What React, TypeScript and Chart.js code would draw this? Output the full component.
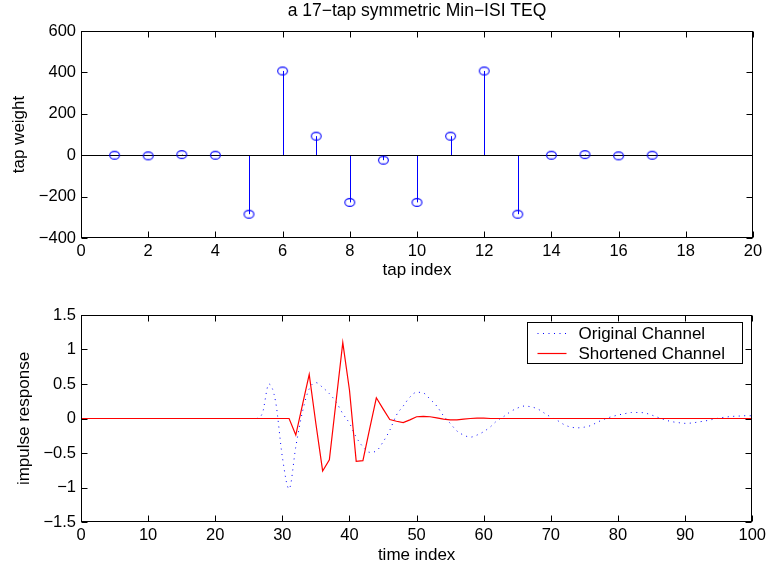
import React, { useEffect, useRef } from "react";
import { Chart, registerables } from "chart.js";

Chart.register(...registerables);

// ---------- data: top panel (17-tap TEQ) ----------
const TAP_INDEX = [1, 2, 3, 4, 5, 6, 7, 8, 9, 10, 11, 12, 13, 14, 15, 16, 17];
const TAP_WEIGHT = [0, -3, 3, 0, -285, 407, 92, -228, -24, -228, 92, 407, -285, 0, 3, -3, 0];
const TAP_X_RANGE = [0, 20];
const TAP_X_STEP = 2;
const TAP_Y_RANGE = [-400, 600];
const TAP_Y_STEP = 200;

// ---------- data: bottom panel (impulse responses) ----------
const TIME_INDEX = Array.from({ length: 101 }, (_, i) => i);
const ORIGINAL_CHANNEL = [
  0, 0, 0, 0, 0, 0, 0, 0, 0, 0,
  0, 0, 0, 0, 0, 0, 0, 0, 0, 0,
  0, 0, 0, 0, 0, 0, 0.0, 0.07, 0.5, 0.24,
  -0.56, -1.02, -0.41, 0.1, 0.43, 0.52, 0.45, 0.36, 0.24, 0.07,
  -0.07, -0.27, -0.41, -0.49, -0.47, -0.34, -0.17, 0.05, 0.18, 0.31,
  0.38, 0.37, 0.28, 0.18, 0.04, -0.07, -0.18, -0.24, -0.27, -0.24,
  -0.19, -0.12, -0.03, 0.03, 0.1, 0.15, 0.18, 0.17, 0.14, 0.08,
  0.02, -0.03, -0.09, -0.125, -0.135, -0.125, -0.1, -0.05, -0.01, 0.025,
  0.05, 0.07, 0.087, 0.087, 0.08, 0.05, 0.015, -0.02, -0.045, -0.06,
  -0.07, -0.065, -0.05, -0.035, -0.015, 0.005, 0.02, 0.03, 0.035, 0.04,
  0.04,
];
const SHORTENED_CHANNEL = [
  0, 0, 0, 0, 0, 0, 0, 0, 0, 0,
  0, 0, 0, 0, 0, 0, 0, 0, 0, 0,
  0, 0, 0, 0, 0, 0, 0, 0, 0, 0,
  0, 0, -0.24, 0.2, 0.64, -0.08, -0.76, -0.6, 0.25, 1.1,
  0.41, -0.62, -0.61, -0.15, 0.3, 0.14, -0.015, -0.04, -0.06, -0.02,
  0.025, 0.03, 0.025, 0.01, -0.01, -0.02, -0.02, -0.01, 0, 0.005,
  0.005, 0, 0, 0, 0, 0, 0, 0, 0, 0,
  0, 0, 0, 0, 0, 0, 0, 0, 0, 0,
  0, 0, 0, 0, 0, 0, 0, 0, 0, 0,
  0, 0, 0, 0, 0, 0, 0, 0, 0, 0,
  0,
];
const TIME_X_RANGE = [0, 100];
const TIME_X_STEP = 10;
const IMP_Y_RANGE = [-1.5, 1.5];
const IMP_Y_STEP = 0.5;
const SERIES_NAMES = ["Original Channel", "Shortened Channel"];

const TITLE_TOP = "a 17\u2212tap symmetric Min\u2212ISI TEQ";
const XLABEL_TOP = "tap index";
const YLABEL_TOP = "tap weight";
const XLABEL_BOT = "time index";
const YLABEL_BOT = "impulse response";

// ---------- styling ----------
const FONT = '"Liberation Sans", Arial, Helvetica, sans-serif';
const TICK_SIZE = 16.5;
const LABEL_SIZE = 17;
const BLUE = "#0000ff";
const RED = "#ff0000";
const TICK_LEN = 6;

const fmtMinus = (v: number | string) => String(v).replace("-", "\u2212");

const boxPlugin = {
  id: "matlabBox",
  afterDraw(chart: any) {
    const { ctx, chartArea: a, scales } = chart;
    const L = Math.round(a.left) + 0.5;
    const R = Math.round(a.right) - 0.5;
    const T = Math.round(a.top) + 0.5;
    const B = Math.round(a.bottom) - 0.5;
    ctx.save();
    ctx.strokeStyle = "#000";
    ctx.lineWidth = 1;
    ctx.beginPath();
    for (const t of scales.x.ticks) {
      const px = Math.round(scales.x.getPixelForValue(t.value)) + 0.5;
      ctx.moveTo(px, B);
      ctx.lineTo(px, B - TICK_LEN);
      ctx.moveTo(px, T);
      ctx.lineTo(px, T + TICK_LEN);
    }
    for (const t of scales.y.ticks) {
      const py = Math.round(scales.y.getPixelForValue(t.value)) + 0.5;
      ctx.moveTo(L, py);
      ctx.lineTo(L + TICK_LEN, py);
      ctx.moveTo(R, py);
      ctx.lineTo(R - TICK_LEN, py);
    }
    ctx.stroke();
    ctx.strokeRect(L, T, R - L, B - T);
    ctx.restore();
  },
};

// stem lines (from baseline 0 to each value) + baseline, drawn through the chart's scales
const stemPlugin = {
  id: "stems",
  beforeDatasetsDraw(chart: any) {
    const { ctx, chartArea: a, scales } = chart;
    const y0 = Math.round(scales.y.getPixelForValue(0)) + 0.5;
    ctx.save();
    ctx.lineWidth = 1;
    ctx.strokeStyle = BLUE;
    ctx.beginPath();
    const pts = chart.data.datasets[0].data;
    for (const p of pts) {
      const px = Math.round(scales.x.getPixelForValue(p.x)) + 0.5;
      const py = scales.y.getPixelForValue(p.y);
      ctx.moveTo(px, y0);
      ctx.lineTo(px, py);
    }
    ctx.stroke();
    ctx.strokeStyle = "#000";
    ctx.beginPath();
    ctx.moveTo(a.left, y0);
    ctx.lineTo(a.right, y0);
    ctx.stroke();
    ctx.restore();
  },
};

const legendPlugin = {
  id: "insideLegend",
  afterDraw(chart: any) {
    const { ctx, chartArea: a } = chart;
    const w = 215;
    const h = 41;
    const left = Math.round(a.right) - 225 + 0.5;
    const top = Math.round(a.top) + 7 + 0.5;
    ctx.save();
    ctx.fillStyle = "#fff";
    ctx.fillRect(left, top, w, h);
    ctx.strokeStyle = "#000";
    ctx.lineWidth = 1;
    ctx.strokeRect(left, top, w, h);
    const rows = [top + 10, top + 30];
    chart.data.datasets.forEach((ds: any, i: number) => {
      const y = Math.round(rows[i]) + 0.5;
      ctx.beginPath();
      ctx.strokeStyle = ds.borderColor;
      ctx.lineWidth = ds.borderWidth;
      ctx.setLineDash(ds.borderDash || []);
      ctx.moveTo(left + 10, y);
      ctx.lineTo(left + 39, y);
      ctx.stroke();
      ctx.setLineDash([]);
      ctx.fillStyle = "#000";
      ctx.font = `${LABEL_SIZE}px ${FONT}`;
      ctx.textAlign = "left";
      ctx.textBaseline = "middle";
      ctx.fillText(ds.label, left + 51, y + 0.5);
    });
    ctx.restore();
  },
};

function ellipseMarker() {
  const c = document.createElement("canvas");
  c.width = 13;
  c.height = 11;
  const g = c.getContext("2d")!;
  g.strokeStyle = BLUE;
  g.lineWidth = 1.1;
  g.beginPath();
  g.ellipse(6.5, 5.5, 4.9, 3.9, 0, 0, Math.PI * 2);
  g.stroke();
  return c;
}

function scaleX(min: number, max: number, step: number, label: string, height: number, titlePadBottom: number) {
  return {
    type: "linear" as const,
    min,
    max,
    offset: false,
    grid: { display: false, drawTicks: false },
    border: { display: false },
    ticks: {
      stepSize: step,
      color: "#000",
      padding: 4,
      maxRotation: 0,
      autoSkip: false,
      font: { family: FONT, size: TICK_SIZE },
      callback: (v: any) => fmtMinus(v),
    },
    title: {
      display: true,
      text: label,
      color: "#000",
      font: { family: FONT, size: LABEL_SIZE },
      padding: { top: 0, bottom: titlePadBottom },
    },
    afterFit: (s: any) => {
      s.height = height;
    },
  };
}

function scaleY(min: number, max: number, step: number, label: string, width: number, titlePadTop: number) {
  return {
    type: "linear" as const,
    min,
    max,
    grid: { display: false, drawTicks: false },
    border: { display: false },
    ticks: {
      stepSize: step,
      color: "#000",
      padding: 5,
      autoSkip: false,
      font: { family: FONT, size: TICK_SIZE },
      callback: (v: any) => fmtMinus(v),
    },
    title: {
      display: true,
      text: label,
      color: "#000",
      font: { family: FONT, size: LABEL_SIZE },
      padding: { top: titlePadTop, bottom: 0 },
    },
    afterFit: (s: any) => {
      s.width = width;
    },
  };
}

export default function App() {
  const topRef = useRef<HTMLCanvasElement>(null);
  const botRef = useRef<HTMLCanvasElement>(null);

  useEffect(() => {
    const stemPoints = TAP_INDEX.map((x, i) => ({ x, y: TAP_WEIGHT[i] }));
    const top = new Chart(topRef.current!, {
      type: "scatter",
      data: {
        datasets: [
          {
            label: "tap weights",
            data: stemPoints,
            showLine: false,
            pointStyle: ellipseMarker() as any,
            pointRadius: 5,
            borderColor: BLUE,
            backgroundColor: "rgba(0,0,0,0)",
          } as any,
        ],
      },
      options: {
        animation: false,
        responsive: false,
        maintainAspectRatio: false,
        devicePixelRatio: 1,
        layout: { padding: { left: 0, right: 17, top: 0, bottom: 0 } },
        plugins: {
          legend: { display: false },
          tooltip: { enabled: false },
          title: {
            display: true,
            text: TITLE_TOP,
            color: "#000",
            fullSize: false,
            font: { family: FONT, size: 17.5, weight: "normal" },
            padding: { top: 0.2, bottom: 9.8 },
          },
        },
        scales: {
          x: scaleX(TAP_X_RANGE[0], TAP_X_RANGE[1], TAP_X_STEP, XLABEL_TOP, 48, 5.5) as any,
          y: scaleY(TAP_Y_RANGE[0], TAP_Y_RANGE[1], TAP_Y_STEP, YLABEL_TOP, 81, 9.5) as any,
        },
      },
      plugins: [stemPlugin, boxPlugin],
    });

    const bot = new Chart(botRef.current!, {
      type: "line",
      data: {
        datasets: [
          {
            label: SERIES_NAMES[0],
            data: TIME_INDEX.map((x, i) => ({ x, y: ORIGINAL_CHANNEL[i] })),
            borderColor: BLUE,
            borderWidth: 1,
            borderDash: [1, 4.5],
            pointRadius: 0,
            cubicInterpolationMode: "monotone",
            order: 2,
          },
          {
            label: SERIES_NAMES[1],
            data: TIME_INDEX.map((x, i) => ({ x, y: SHORTENED_CHANNEL[i] })),
            borderColor: RED,
            borderWidth: 1.2,
            pointRadius: 0,
            tension: 0,
            order: 1,
          },
        ],
      },
      options: {
        animation: false,
        responsive: false,
        maintainAspectRatio: false,
        devicePixelRatio: 1,
        layout: { padding: { left: 0, right: 17, top: 29, bottom: 0 } },
        plugins: {
          legend: { display: false },
          tooltip: { enabled: false },
        },
        scales: {
          x: scaleX(TIME_X_RANGE[0], TIME_X_RANGE[1], TIME_X_STEP, XLABEL_BOT, 50, 6.5) as any,
          y: scaleY(IMP_Y_RANGE[0], IMP_Y_RANGE[1], IMP_Y_STEP, YLABEL_BOT, 81, 14.5) as any,
        },
      },
      plugins: [boxPlugin, legendPlugin],
    });

    return () => {
      top.destroy();
      bot.destroy();
    };
  }, []);

  return (
    <div style={{ position: "absolute", left: 0, top: 0, width: 770, height: 572, background: "#fff" }}>
      <canvas ref={topRef} width={770} height={286} style={{ position: "absolute", left: 0, top: 0 }} />
      <canvas ref={botRef} width={770} height={286} style={{ position: "absolute", left: 0, top: 286 }} />
    </div>
  );
}
